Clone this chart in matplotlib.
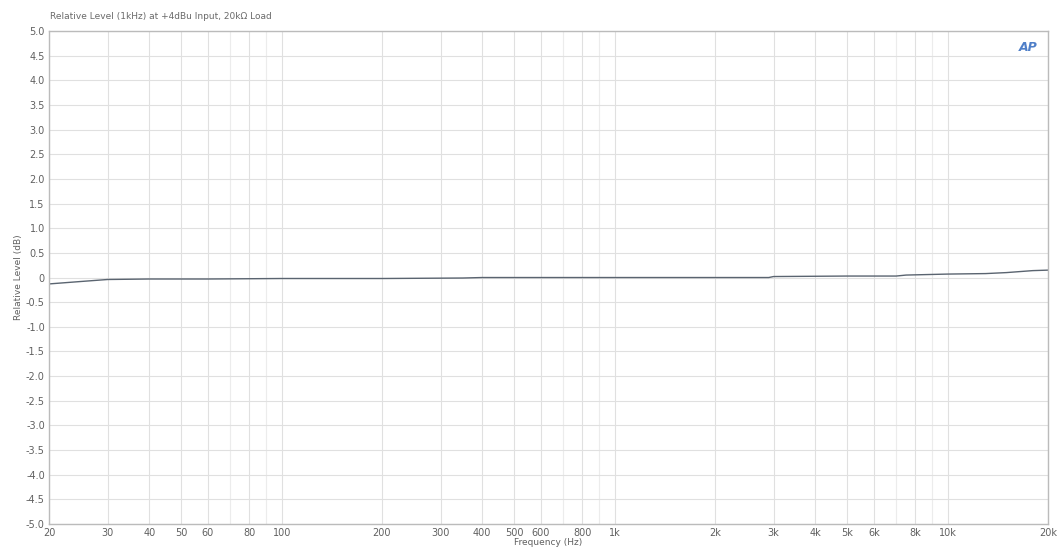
import numpy as np
import matplotlib
matplotlib.use("Agg")
import matplotlib.pyplot as plt
from matplotlib.ticker import FixedLocator, NullFormatter

# ------------------------------------------------------------
# data
# ------------------------------------------------------------
freq_hz = [20, 25, 30, 40, 60, 100, 200, 350, 400, 1000, 2000, 2900, 3000,
           5000, 7000, 7500, 10000, 13000, 15000, 18000, 20000]
level_db = [-0.13, -0.08, -0.04, -0.03, -0.03, -0.02, -0.02, -0.01, 0.0, 0.0,
            0.0, 0.0, 0.02, 0.03, 0.03, 0.05, 0.07, 0.08, 0.10, 0.14, 0.15]

x_ticks = [20, 30, 40, 50, 60, 80, 100, 200, 300, 400, 500, 600, 800,
           1000, 2000, 3000, 4000, 5000, 6000, 8000, 10000, 20000]
x_labels = ["20", "30", "40", "50", "60", "80", "100", "200", "300", "400",
            "500", "600", "800", "1k", "2k", "3k", "4k", "5k", "6k", "8k",
            "10k", "20k"]
x_minor = [70, 90, 700, 900, 7000, 9000]

y_ticks = [5.0, 4.5, 4.0, 3.5, 3.0, 2.5, 2.0, 1.5, 1.0, 0.5, 0,
           -0.5, -1.0, -1.5, -2.0, -2.5, -3.0, -3.5, -4.0, -4.5, -5.0]
y_labels = ["0" if v == 0 else f"{v:.1f}" for v in y_ticks]

title = "Relative Level (1kHz) at +4dBu Input, 20k\u03a9 Load"

# ------------------------------------------------------------
# plot
# ------------------------------------------------------------
fig = plt.figure(figsize=(10.62, 5.57), dpi=100)
ax = fig.add_axes([0.0461, 0.0592, 0.9407, 0.8851])

ax.plot(freq_hz, level_db, color="#5a6470", linewidth=1.0)

ax.set_xscale("log")
ax.set_xlim(20, 20000)
ax.set_ylim(-5, 5)

ax.xaxis.set_major_locator(FixedLocator(x_ticks))
ax.set_xticklabels(x_labels)
ax.xaxis.set_minor_locator(FixedLocator(x_minor))
ax.xaxis.set_minor_formatter(NullFormatter())
ax.set_yticks(y_ticks)
ax.set_yticklabels(y_labels)

ax.grid(which="major", color="#e0e0e0", linewidth=0.8)
ax.grid(which="minor", axis="x", color="#ececec", linewidth=0.8)

ax.tick_params(which="both", length=0, labelsize=7, colors="#606060", pad=3)
for side in ["left", "bottom", "right", "top"]:
    ax.spines[side].set_color("#bbbbbb")
    ax.spines[side].set_linewidth(1.0)

ax.set_xlabel("Frequency (Hz)", fontsize=6.5, color="#606060", labelpad=0)
ax.set_ylabel("Relative Level (dB)", fontsize=6.5, color="#606060", labelpad=2)

fig.text(0.047, 0.962, title, fontsize=6.5, color="#6a6a6a", va="bottom")

ax.text(0.98, 0.967, "AP", transform=ax.transAxes, fontsize=9,
        fontweight="bold", fontstyle="italic", color="#4f7fc8",
        ha="center", va="center")

fig.savefig("out.png", dpi=100)
